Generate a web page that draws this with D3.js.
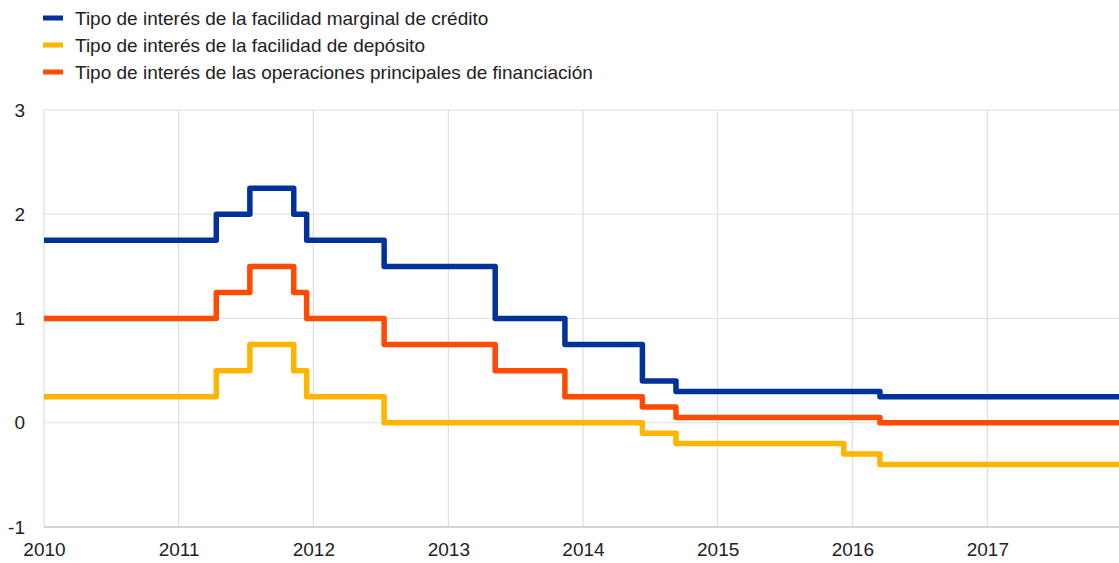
<!DOCTYPE html>
<html>
<head>
<meta charset="utf-8">
<script src="https://cdn.jsdelivr.net/npm/d3@7"></script>
<style>
  html, body { margin: 0; padding: 0; background: #fff; }
  svg { display: block; font-family: "Liberation Sans", Arial, sans-serif; }
</style>
</head>
<body>
<svg id="chart" width="1119" height="563"></svg>
<script>
// Effective dates of rate changes (step starts) and final date
const changeDates = ["2010-01-01","2011-04-13","2011-07-13","2011-11-09","2011-12-14","2012-07-11",
  "2013-05-08","2013-11-13","2014-06-11","2014-09-10","2015-12-09","2016-03-16","2017-12-31"];
const seriesNames = [
  "Tipo de interés de la facilidad marginal de crédito",
  "Tipo de interés de la facilidad de depósito",
  "Tipo de interés de las operaciones principales de financiación"
];
const mlfValues = [1.75, 2.00, 2.25, 2.00, 1.75, 1.50, 1.00, 0.75, 0.40, 0.30, 0.30, 0.25, 0.25];
const dfValues  = [0.25, 0.50, 0.75, 0.50, 0.25, 0.00, 0.00, 0.00, -0.10, -0.20, -0.30, -0.40, -0.40];
const mroValues = [1.00, 1.25, 1.50, 1.25, 1.00, 0.75, 0.50, 0.25, 0.15, 0.05, 0.05, 0.00, 0.00];
const yTicks = [-1, 0, 1, 2, 3];
const xTickYears = [2010, 2011, 2012, 2013, 2014, 2015, 2016, 2017];
const colors = ["#003299", "#FFB400", "#FF4B00"];

(function () {
const parse = d3.timeParse("%Y-%m-%d");
const dates = changeDates.map(parse);
const series = [mlfValues, dfValues, mroValues].map((vals, i) => ({
  name: seriesNames[i], color: colors[i],
  points: vals.map((v, j) => ({ date: dates[j], value: v }))
}));

const svg = d3.select("#chart");
const mLeft = 44, mRight = 1122, mTop = 110, mBottom = 527;
const fontSize = 19;

const x = d3.scaleTime().domain([new Date(2010, 0, 1), new Date(2018, 0, 1)]).range([mLeft, mRight]);
const y = d3.scaleLinear().domain([-1, 3]).range([mBottom, mTop]);

// grid lines
const grid = svg.append("g");
grid.selectAll("line.h").data(yTicks).join("line").attr("class", "h")
  .attr("x1", mLeft).attr("x2", 1119)
  .attr("y1", d => y(d)).attr("y2", d => y(d))
  .attr("stroke", "#dedede").attr("stroke-width", 1.2);
grid.selectAll("line.v").data(xTickYears).join("line").attr("class", "v")
  .attr("x1", d => x(new Date(d, 0, 1))).attr("x2", d => x(new Date(d, 0, 1)))
  .attr("y1", mTop).attr("y2", mBottom)
  .attr("stroke", "#dedede").attr("stroke-width", 1.2);

// bottom axis line
svg.append("line").attr("x1", mLeft).attr("x2", 1119).attr("y1", mBottom).attr("y2", mBottom)
  .attr("stroke", "#d4d4d4").attr("stroke-width", 2);

// y axis labels
const yAxis = d3.axisLeft(y).tickValues(yTicks).tickFormat(d => String(d)).tickSize(0).tickPadding(0);
const yg = svg.append("g").attr("transform", "translate(25,0)").call(yAxis);
yg.select(".domain").remove();
yg.selectAll("text").attr("font-size", fontSize).attr("fill", "#222").attr("font-family", "Liberation Sans, Arial, sans-serif");

// x axis labels
const xAxis = d3.axisBottom(x).tickValues(xTickYears.map(yv => new Date(yv, 0, 1)))
  .tickFormat(d3.timeFormat("%Y")).tickSize(0).tickPadding(0);
const xg = svg.append("g").attr("transform", `translate(0,${mBottom + 15})`).call(xAxis);
xg.select(".domain").remove();
xg.selectAll("text").attr("font-size", fontSize).attr("fill", "#222").attr("font-family", "Liberation Sans, Arial, sans-serif");

// lines
const line = d3.line().x(d => x(d.date)).y(d => y(d.value)).curve(d3.curveStepAfter);
svg.append("g").selectAll("path").data(series).join("path")
  .attr("d", d => line(d.points))
  .attr("fill", "none").attr("stroke", d => d.color)
  .attr("stroke-width", 5.5).attr("stroke-linejoin", "round").attr("stroke-linecap", "butt");

// legend
const lg = svg.append("g").selectAll("g").data(series).join("g")
  .attr("transform", (d, i) => `translate(43,${18 + i * 27})`);
lg.append("line").attr("x1", 0).attr("x2", 20).attr("y1", 0).attr("y2", 0)
  .attr("stroke", d => d.color).attr("stroke-width", 5);
lg.append("text").attr("x", 32).attr("y", 0).attr("dy", "0.35em")
  .attr("font-size", fontSize).attr("fill", "#222").text(d => d.name);
})();
</script>
</body>
</html>
